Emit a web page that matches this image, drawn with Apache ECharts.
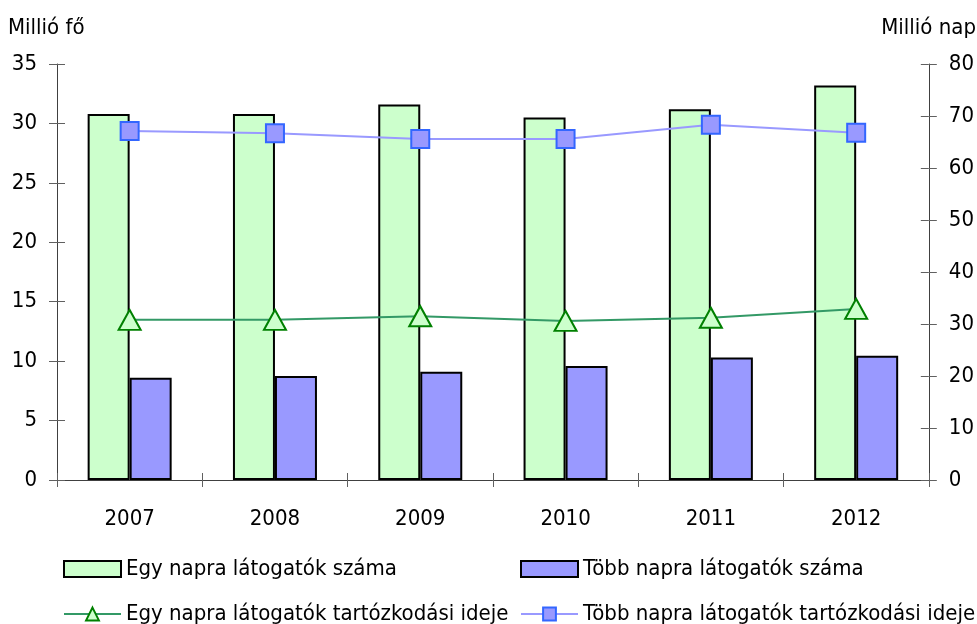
<!DOCTYPE html>
<html>
<head>
<meta charset="utf-8">
<script src="https://cdn.jsdelivr.net/npm/echarts@6/dist/echarts.min.js"></script>
<style>
  html, body { margin: 0; padding: 0; background: #fff; }
  #chart { width: 977px; height: 624px; }
</style>
</head>
<body>
<div id="chart"></div>
<script>
// adatok
var years = ['2007', '2008', '2009', '2010', '2011', '2012'];
var egyNapraSzam = [30.8, 30.8, 31.6, 30.5, 31.2, 33.2];
var tobbNapraSzam = [8.6, 8.75, 9.1, 9.6, 10.3, 10.45];
var egyNapraIdo = [30.8, 30.8, 31.5, 30.6, 31.2, 32.9];
var tobbNapraIdo = [67.1, 66.7, 65.6, 65.6, 68.3, 66.8];

var FONT = '"DejaVu Sans Condensed", "Liberation Sans", Arial, sans-serif';
var names = [
    'Egy napra látogatók száma',
    'Több napra látogatók száma',
    'Egy napra látogatók tartózkodási ideje',
    'Több napra látogatók tartózkodási ideje'
];

var myChart = echarts.init(document.getElementById('chart'));

function legendAt(name, left, top, icon) {
    var lg = {
        data: [name],
        left: left,
        top: top,
        padding: 0,
        itemWidth: 57,
        itemHeight: 16,
        itemGap: 4,
        textStyle: { fontFamily: FONT, fontSize: 22, color: '#000' },
        selectedMode: false
    };
    if (icon) lg.icon = icon;
    return lg;
}

var axisLineStyle = { lineStyle: { color: '#404040', width: 1 } };
var tickStyle = { lineStyle: { color: '#606060', width: 1 } };

myChart.setOption({
    animation: false,
    textStyle: { fontFamily: FONT },
    grid: { left: 57, right: 45, top: 64, bottom: 144 },
    graphic: [
        { type: 'text', left: 8, top: 17, style: { text: 'Millió fő', font: '22px ' + FONT, fill: '#000' } },
        { type: 'text', right: 1, top: 17, style: { text: 'Millió nap', font: '22px ' + FONT, fill: '#000' } }
    ],
    legend: [
        legendAt(names[0], 63, 558, 'rect'),
        legendAt(names[1], 520, 558, 'rect'),
        legendAt(names[2], 63, 603),
        legendAt(names[3], 520, 603)
    ],
    xAxis: [
        {
            type: 'category',
            data: years,
            axisLine: axisLineStyle,
            axisTick: { show: true, length: 7, lineStyle: tickStyle.lineStyle },
            axisLabel: { margin: 28, fontSize: 22, color: '#000', fontFamily: FONT }
        },
        {
            type: 'category',
            data: years,
            position: 'bottom',
            axisLine: { show: false },
            axisTick: { show: true, inside: true, length: 7, lineStyle: tickStyle.lineStyle },
            axisLabel: { show: false }
        }
    ],
    yAxis: [
        {
            type: 'value',
            min: 0, max: 35, interval: 5,
            position: 'left',
            splitLine: { show: false },
            axisLine: { show: true, lineStyle: axisLineStyle.lineStyle },
            axisTick: { show: true, length: 8, lineStyle: tickStyle.lineStyle },
            axisLabel: { margin: 20, fontSize: 22, color: '#000', fontFamily: FONT }
        },
        {
            type: 'value',
            min: 0, max: 80, interval: 10,
            position: 'right',
            splitLine: { show: false },
            axisLine: { show: true, lineStyle: axisLineStyle.lineStyle },
            axisTick: { show: true, length: 8, lineStyle: tickStyle.lineStyle },
            axisLabel: { margin: 20, fontSize: 22, color: '#000', fontFamily: FONT }
        },
        {
            type: 'value',
            min: 0, max: 35, interval: 5,
            position: 'left',
            splitLine: { show: false },
            axisLine: { show: false },
            axisTick: { show: true, inside: true, length: 8, lineStyle: tickStyle.lineStyle },
            axisLabel: { show: false }
        },
        {
            type: 'value',
            min: 0, max: 80, interval: 10,
            position: 'right',
            splitLine: { show: false },
            axisLine: { show: false },
            axisTick: { show: true, inside: true, length: 8, lineStyle: tickStyle.lineStyle },
            axisLabel: { show: false }
        }
    ],
    series: [
        {
            name: names[0],
            type: 'bar',
            barWidth: 42,
            barGap: '0%',
            data: egyNapraSzam,
            itemStyle: { color: '#ccffcc', borderColor: '#000', borderWidth: 2 }
        },
        {
            name: names[1],
            type: 'bar',
            barWidth: 42,
            barGap: '0%',
            data: tobbNapraSzam,
            itemStyle: { color: '#9999ff', borderColor: '#000', borderWidth: 2 }
        },
        {
            name: names[2],
            type: 'line',
            yAxisIndex: 1,
            data: egyNapraIdo,
            symbol: 'triangle',
            symbolSize: [22, 20],
            lineStyle: { color: '#339966', width: 2 },
            itemStyle: { color: '#ccffcc', borderColor: '#008000', borderWidth: 2 },
            z: 5
        },
        {
            name: names[3],
            type: 'line',
            yAxisIndex: 1,
            data: tobbNapraIdo,
            symbol: 'rect',
            symbolSize: 18,
            lineStyle: { color: '#9999ff', width: 2 },
            itemStyle: { color: '#9999ff', borderColor: '#3366ff', borderWidth: 2 },
            z: 5
        }
    ]
});
</script>
</body>
</html>
